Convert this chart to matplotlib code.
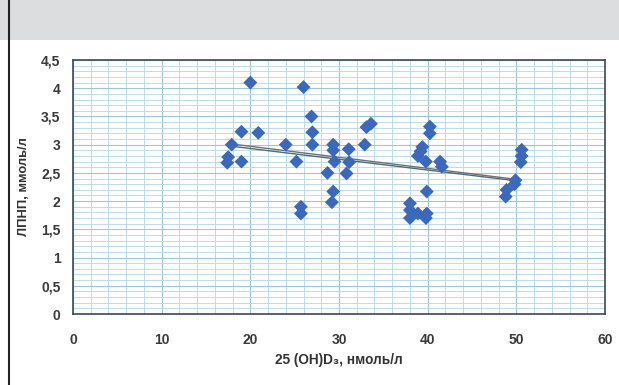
import numpy as np
import matplotlib.pyplot as plt
from matplotlib.ticker import MultipleLocator, FuncFormatter
from matplotlib.patches import Rectangle
from matplotlib.lines import Line2D

plt.rcParams['font.family'] = ['Liberation Sans', 'DejaVu Sans']

# vitamin D (x) vs LDL (y)
vit_d = [20.0, 26.0, 26.9, 27.0, 27.0, 19.0, 20.9, 17.9, 17.5, 17.4, 19.0, 24.0,
         25.2, 25.7, 25.7, 29.35, 29.35, 29.5, 28.7, 29.35, 29.2, 31.1, 31.15, 30.85,
         32.9, 33.1, 33.6, 40.25, 40.25, 39.4, 39.2, 38.9, 39.8, 41.4, 41.6, 39.9,
         38.0, 38.0, 38.0, 38.9, 39.9, 39.8, 50.6, 50.6, 50.5, 49.9, 49.8, 48.9, 48.8]
ldl = [4.10, 4.02, 3.50, 3.22, 3.00, 3.23, 3.21, 3.00, 2.78, 2.68, 2.70, 3.00,
       2.70, 1.90, 1.78, 3.00, 2.90, 2.70, 2.50, 2.17, 1.98, 2.92, 2.69, 2.49,
       3.00, 3.31, 3.37, 3.32, 3.20, 2.96, 2.88, 2.80, 2.70, 2.70, 2.61, 2.17,
       1.96, 1.84, 1.70, 1.78, 1.78, 1.70, 2.91, 2.80, 2.69, 2.37, 2.30, 2.20, 2.08]

# two trend lines drawn almost on top of each other
trend_x = [18, 50]
trend_a = [3.01, 2.385]
trend_b = [2.97, 2.36]

fig = plt.figure(figsize=(6.19, 3.85), dpi=100)

# grey banner on top + left frame line
fig.patches.append(Rectangle((0.0, 1 - 40 / 385), 1, 40 / 385, transform=fig.transFigure,
                             facecolor='#dcdddf', edgecolor='none', zorder=0))
fig.lines.append(Line2D([9 / 619, 9 / 619], [0, 1], transform=fig.transFigure,
                        color='#222222', lw=1.5))

ax = fig.add_axes([73 / 619, 71 / 385, 532 / 619, 254 / 385])
ax.set_xlim(0, 60)
ax.set_ylim(0, 4.5)

ax.xaxis.set_major_locator(MultipleLocator(10))
ax.xaxis.set_minor_locator(MultipleLocator(2))
ax.yaxis.set_major_locator(MultipleLocator(0.5))
ax.yaxis.set_minor_locator(MultipleLocator(0.1))
ax.grid(which='minor', color='#bcdcea', lw=0.7)
ax.grid(which='major', axis='y', color='#98c8de', lw=0.8)
ax.grid(which='major', axis='x', color='#9fc4d4', lw=0.9)
ax.set_axisbelow(True)

fmt = FuncFormatter(lambda v, p: ('%g' % v).replace('.', ','))
ax.yaxis.set_major_formatter(fmt)
ax.tick_params(which='both', length=0)
ax.tick_params(axis='both', labelsize=10, labelcolor='#3a3a3a')
ax.tick_params(axis='y', pad=9)
ax.tick_params(axis='x', pad=14)
for lab in ax.get_xticklabels() + ax.get_yticklabels():
    lab.set_fontweight('bold')

for s in ax.spines.values():
    s.set_color('#3a4a55')
    s.set_linewidth(1.2)

ax.plot(trend_x, trend_a, color='#6b7275', lw=1.0, zorder=3)
ax.plot(trend_x, trend_b, color='#4a6d78', lw=1.0, zorder=3)
ax.scatter(vit_d, ldl, marker='D', s=50, color='#3a68bd', edgecolors='none', zorder=4)

ax.set_xlabel('25 (OH)D₃, нмоль/л', fontsize=9.8, color='#333333', fontweight='bold', labelpad=4)
ax.set_ylabel('ЛПНП, ммоль/л', fontsize=9.3, color='#333333', fontweight='bold', labelpad=8)

fig.savefig('out.png', dpi=100)
